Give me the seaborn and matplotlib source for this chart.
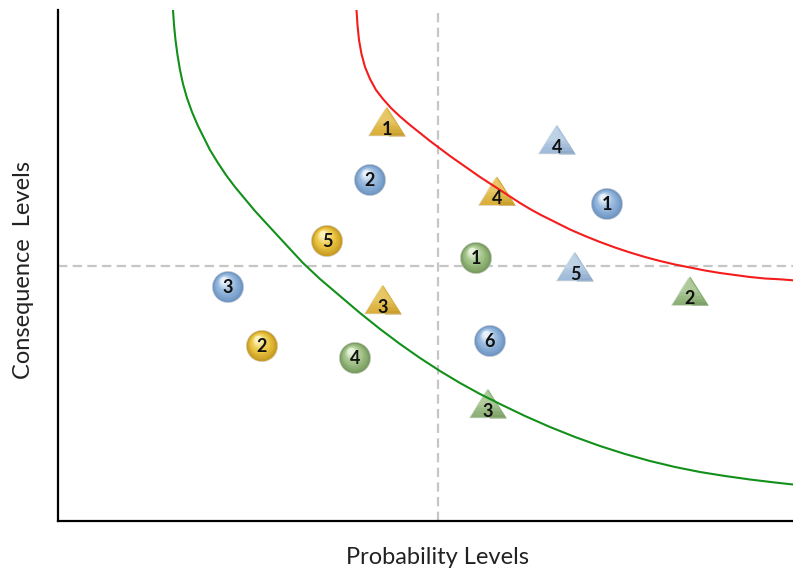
import numpy as np
import pandas as pd
import matplotlib
matplotlib.use("Agg")
import matplotlib.pyplot as plt
import matplotlib.colors as mcolors
from matplotlib.transforms import offset_copy
import seaborn as sns

# ---------------- data (arbitrary plot units) ----------------
circle_series = ["Blue", "Blue", "Blue", "Blue", "Gold", "Gold", "Green", "Green"]
circle_labels = ["2", "1", "3", "6", "5", "2", "1", "4"]
circle_x = [312, 549, 170, 432, 269, 204, 418, 297]
circle_y = [341, 317, 234, 180, 280, 175, 263, 163]

tri_series = ["Gold", "Gold", "Gold", "Blue", "Blue", "Green", "Green"]
tri_labels = ["1", "4", "3", "4", "5", "2", "3"]
tri_x = [329, 439, 325, 499, 517, 632, 430]
tri_y = [399.5, 330, 221.5, 381.5, 254.5, 230, 117.5]

green_curve_x = [115, 116, 117.5, 119.5, 122, 125, 129, 134, 140, 146, 152, 160, 168, 177,
                 187, 197, 208, 220, 232, 245, 262, 282, 302, 322, 342, 362, 382, 402, 422,
                 442, 467, 492, 517, 542, 567, 592, 617, 642, 667, 692, 717, 735]
green_curve_y = [511, 496, 481, 466, 451, 437, 423, 409, 395, 383, 371, 358, 346, 334,
                 322, 310, 298, 285, 272, 258, 242, 225, 208, 192, 177, 163, 150, 138, 127,
                 117, 105, 94, 84, 75, 67, 60, 54, 49, 45, 41.5, 38.5, 36.5]

red_curve_x = [298.5, 299.5, 301, 303.5, 307, 312, 318, 325, 333, 342, 352, 362, 372, 382,
               392, 402, 412, 422, 432, 442, 452, 462, 472, 482, 497, 512, 527, 542, 557,
               572, 587, 602, 617, 632, 647, 662, 677, 692, 707, 722, 735]
red_curve_y = [511, 496, 481, 467, 454, 442, 431, 422, 413, 404.5, 396, 388, 380, 372.5,
               365, 358, 351, 344, 337.5, 331, 324.5, 318, 312, 306.5, 299, 291.5, 285, 279,
               273.5, 268.5, 264, 260, 256.5, 253.5, 250.5, 248, 246, 244, 242.5, 241.7,
               240.7]

prob_threshold = 380
cons_threshold = 255
x_label = "Probability Levels"
y_label = "Consequence  Levels"

# ---------------- styling ----------------
sphere_colors = {
    "Blue": ("#7197c4", "#93b6dc", "#e8f1fb"),
    "Gold": ("#c99d22", "#ebc542", "#fdf2b8"),
    "Green": ("#7a9d62", "#9fc185", "#e6f2da"),
}
tri_colors = {
    "Blue": ("#7a99bc", "#9fbbd9", "#d6e4f2"),
    "Gold": ("#b88c1c", "#daaf3a", "#f3da86"),
    "Green": ("#6b9054", "#8db076", "#c9dfb8"),
}

sns.set_theme(style="white")
plt.rcParams["font.family"] = ["Lato", "DejaVu Sans"]

W, H = 793, 573
fig = plt.figure(figsize=(W / 100, H / 100), dpi=100)
ax = fig.add_axes([58 / W, (H - 521) / H, (W - 58) / W, (521 - 10) / H])
ax.set_xlim(0, 735)
ax.set_ylim(0, 511)
ax.set_xticks([])
ax.set_yticks([])
for s in ["top", "right"]:
    ax.spines[s].set_visible(False)
for s in ["left", "bottom"]:
    ax.spines[s].set_color("black")
    ax.spines[s].set_linewidth(1.6)

# threshold dashed lines
ax.axvline(prob_threshold, color="#c6c6c6", lw=1.6, dashes=(4.2, 2.4), zorder=1)
ax.axhline(cons_threshold, color="#c6c6c6", lw=1.6, dashes=(4.2, 2.4), zorder=1)

# curves
curves = pd.DataFrame({
    "x": green_curve_x + red_curve_x,
    "y": green_curve_y + red_curve_y,
    "curve": ["green"] * len(green_curve_x) + ["red"] * len(red_curve_x),
})
sns.lineplot(data=curves, x="x", y="y", hue="curve", sort=False, estimator=None,
             palette={"green": "#12901a", "red": "#f51c1c"}, lw=1.5,
             legend=False, ax=ax, zorder=5, solid_joinstyle="round")
ax.set_xlabel("")
ax.set_ylabel("")

# spheres
circles = pd.DataFrame({"x": circle_x, "y": circle_y, "series": circle_series,
                        "label": circle_labels})
D = 22.5
sns.scatterplot(data=circles, x="x", y="y", hue="series",
                palette={k: v[0] for k, v in sphere_colors.items()},
                s=D ** 2, marker="o", edgecolor="#d0d0d0", linewidth=0.4,
                legend=False, ax=ax, zorder=3)
n_layers = 9
for i in range(1, n_layers + 1):
    t = i / n_layers
    r = 0.95 - 0.72 * t
    off = (1 - r) * D * 0.28
    tr = offset_copy(ax.transData, fig=fig, x=-off * 0.6, y=off, units="points")
    for key, (dark, base, light) in sphere_colors.items():
        sub = circles[circles.series == key]
        c0 = np.array(mcolors.to_rgb(dark))
        c1 = np.array(mcolors.to_rgb(base))
        c2 = np.array(mcolors.to_rgb(light))
        if t < 0.45:
            col = c0 + (c1 - c0) * min(1, t * 2.4)
        else:
            col = c1 + (c2 - c1) * ((t - 0.45) / 0.55) ** 1.3
        ax.scatter(sub.x, sub.y, s=(D * r) ** 2, color=col, marker="o",
                   linewidth=0, transform=tr, zorder=3)

# triangles (pyramid look: base, darker right face, light apex)
tri_marker = [(0, 0.78), (-1, -0.78), (1, -0.78)]
tri_right = [(0, 0.78), (0.08, -0.78), (1, -0.78)]
tris = pd.DataFrame({"x": tri_x, "y": tri_y, "series": tri_series, "label": tri_labels})
TS = 26.6
sns.scatterplot(data=tris, x="x", y="y", hue="series",
                palette={k: v[1] for k, v in tri_colors.items()},
                s=TS ** 2, marker=tri_marker, edgecolor="#d8d8d8", linewidth=0.4,
                legend=False, ax=ax, zorder=3)
for key, (dark, base, light) in tri_colors.items():
    sub = tris[tris.series == key]
    ax.scatter(sub.x, sub.y, s=TS ** 2, color=dark, alpha=0.45, marker=tri_right,
               linewidth=0, zorder=3)
for i in range(1, 5):
    t = i / 5
    r = 1 - 0.6 * t
    tr = offset_copy(ax.transData, fig=fig, x=-1.5 * t, y=0.5 * (1 - r) * TS * 0.78,
                     units="points")
    for key, (dark, base, light) in tri_colors.items():
        sub = tris[tris.series == key]
        c1 = np.array(mcolors.to_rgb(base))
        c2 = np.array(mcolors.to_rgb(light))
        col = c1 + (c2 - c1) * t
        ax.scatter(sub.x, sub.y, s=(TS * r) ** 2, color=col, alpha=0.45,
                   marker=tri_marker, linewidth=0, transform=tr, zorder=3)

# labels
for _, row in circles.iterrows():
    ax.annotate(row.label, (row.x, row.y), xytext=(0, -0.5), textcoords="offset points",
                ha="center", va="center", fontsize=13, fontweight="bold",
                color="#111111", zorder=7)
for _, row in tris.iterrows():
    ax.annotate(row.label, (row.x, row.y), xytext=(0, -5.5), textcoords="offset points",
                ha="center", va="center", fontsize=13, fontweight="bold",
                color="#111111", zorder=7)

fig.text(438 / W, 1 - 558 / H, x_label, ha="center", va="center", fontsize=17,
         color="#222222")
fig.text(24 / W, 1 - 270 / H, y_label, ha="center", va="center", fontsize=17,
         rotation=90, color="#222222")

fig.savefig("out.png", dpi=100)
